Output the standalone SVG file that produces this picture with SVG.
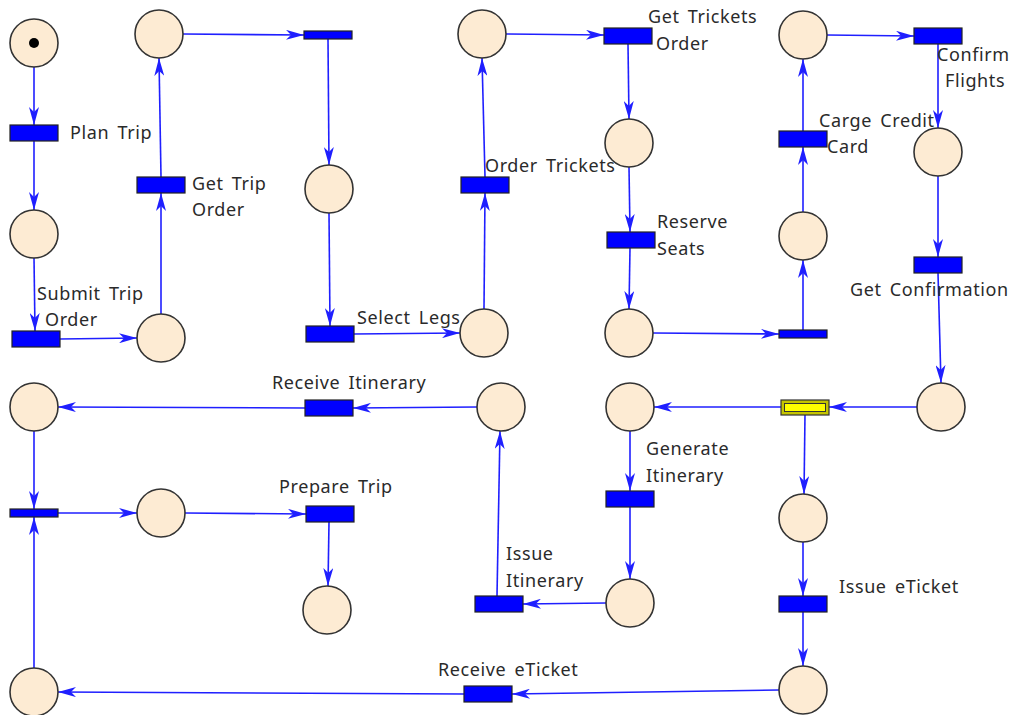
<svg xmlns="http://www.w3.org/2000/svg" width="1012" height="715" viewBox="0 0 1012 715">
<style>
.pl{fill:#FDEBD3;stroke:#333;stroke-width:1.6}
.tr{fill:#0000FF;stroke:#222;stroke-width:1.2}
.ar{stroke:#1F1FFF;stroke-width:1.6;fill:none;marker-end:url(#ah)}
.lb{font-family:"Noto Sans","Open Sans",sans-serif;font-size:18px;letter-spacing:0.6px;word-spacing:3px;fill:#2a2a2a}
</style>
<defs>
<marker id="ah" viewBox="0 0 18 10" refX="18" refY="5" markerWidth="18" markerHeight="10" markerUnits="userSpaceOnUse" orient="auto">
<path d="M0,0 L18,5 L0,10 L5,5 Z" fill="#1F1FFF"/>
</marker>
</defs>
<rect width="1012" height="715" fill="#fff"/>
<g id="connectors">
<line class="ar" x1="34" y1="67" x2="34" y2="125"/>
<line class="ar" x1="34" y1="141" x2="34" y2="210"/>
<line class="ar" x1="34" y1="258" x2="35" y2="331"/>
<line class="ar" x1="60" y1="339" x2="137" y2="338"/>
<line class="ar" x1="161" y1="314" x2="161" y2="193"/>
<line class="ar" x1="161" y1="177" x2="159" y2="58"/>
<line class="ar" x1="183" y1="34" x2="304" y2="35"/>
<line class="ar" x1="328" y1="39" x2="329" y2="165"/>
<line class="ar" x1="329" y1="213" x2="330" y2="326"/>
<line class="ar" x1="354" y1="334" x2="460" y2="333"/>
<line class="ar" x1="484" y1="309" x2="485" y2="193"/>
<line class="ar" x1="485" y1="177" x2="482" y2="58"/>
<line class="ar" x1="506" y1="34" x2="604" y2="35"/>
<line class="ar" x1="628" y1="44" x2="629" y2="119"/>
<line class="ar" x1="629" y1="167" x2="630" y2="232"/>
<line class="ar" x1="630" y1="248" x2="629" y2="309"/>
<line class="ar" x1="653" y1="333" x2="779" y2="334"/>
<line class="ar" x1="803" y1="330" x2="803" y2="260"/>
<line class="ar" x1="803" y1="212" x2="803" y2="147"/>
<line class="ar" x1="803" y1="131" x2="803" y2="59"/>
<line class="ar" x1="827" y1="35" x2="914" y2="36"/>
<line class="ar" x1="938" y1="44" x2="938" y2="128"/>
<line class="ar" x1="938" y1="176" x2="938" y2="257"/>
<line class="ar" x1="938" y1="273" x2="941" y2="383"/>
<line class="ar" x1="917" y1="407" x2="829" y2="407"/>
<line class="ar" x1="781" y1="407" x2="654" y2="407"/>
<line class="ar" x1="805" y1="414" x2="804" y2="494"/>
<line class="ar" x1="630" y1="431" x2="630" y2="491"/>
<line class="ar" x1="630" y1="507" x2="630" y2="579"/>
<line class="ar" x1="606" y1="603" x2="523" y2="604"/>
<line class="ar" x1="497" y1="596" x2="500" y2="431"/>
<line class="ar" x1="477" y1="407" x2="353" y2="408"/>
<line class="ar" x1="305" y1="408" x2="58" y2="407"/>
<line class="ar" x1="34" y1="431" x2="34" y2="509"/>
<line class="ar" x1="58" y1="513" x2="137" y2="513"/>
<line class="ar" x1="185" y1="513" x2="306" y2="514"/>
<line class="ar" x1="329" y1="522" x2="328" y2="586"/>
<line class="ar" x1="803" y1="542" x2="803" y2="596"/>
<line class="ar" x1="803" y1="612" x2="803" y2="666"/>
<line class="ar" x1="779" y1="690" x2="512" y2="694"/>
<line class="ar" x1="464" y1="694" x2="58" y2="692"/>
<line class="ar" x1="34" y1="668" x2="34" y2="517"/>
</g>
<g id="p1"><circle class="pl" cx="34" cy="43" r="24"/><circle cx="34" cy="43" r="5" fill="#000"/></g>
<g id="p2"><circle class="pl" cx="34" cy="234" r="24"/></g>
<g id="p3"><circle class="pl" cx="159" cy="34" r="24"/></g>
<g id="p4"><circle class="pl" cx="161" cy="338" r="24"/></g>
<g id="p5"><circle class="pl" cx="329" cy="189" r="24"/></g>
<g id="p6"><circle class="pl" cx="484" cy="333" r="24"/></g>
<g id="p7"><circle class="pl" cx="482" cy="34" r="24"/></g>
<g id="p8"><circle class="pl" cx="629" cy="143" r="24"/></g>
<g id="p9"><circle class="pl" cx="629" cy="333" r="24"/></g>
<g id="p10"><circle class="pl" cx="803" cy="35" r="24"/></g>
<g id="p11"><circle class="pl" cx="803" cy="236" r="24"/></g>
<g id="p12"><circle class="pl" cx="938" cy="152" r="24"/></g>
<g id="p13"><circle class="pl" cx="941" cy="407" r="24"/></g>
<g id="p14"><circle class="pl" cx="34" cy="407" r="24"/></g>
<g id="p15"><circle class="pl" cx="161" cy="513" r="24"/></g>
<g id="p16"><circle class="pl" cx="327" cy="610" r="24"/></g>
<g id="p17"><circle class="pl" cx="34" cy="692" r="24"/></g>
<g id="p18"><circle class="pl" cx="501" cy="407" r="24"/></g>
<g id="p19"><circle class="pl" cx="630" cy="407" r="24"/></g>
<g id="p20"><circle class="pl" cx="803" cy="518" r="24"/></g>
<g id="p21"><circle class="pl" cx="630" cy="603" r="24"/></g>
<g id="p22"><circle class="pl" cx="803" cy="690" r="24"/></g>
<g id="t1"><rect class="tr" x="10" y="125" width="48" height="16"/><text class="lb" x="70" y="139">Plan Trip</text></g>
<g id="t2"><rect class="tr" x="12" y="331" width="48" height="16"/><text class="lb" x="37" y="300">Submit Trip</text><text class="lb" x="45" y="326">Order</text></g>
<g id="t3"><rect class="tr" x="137" y="177" width="48" height="16"/><text class="lb" x="192" y="190">Get Trip</text><text class="lb" x="192" y="216">Order</text></g>
<g id="t4"><rect class="tr" x="304" y="31" width="48" height="8"/></g>
<g id="t5"><rect class="tr" x="306" y="326" width="48" height="16"/><text class="lb" x="357" y="324">Select Legs</text></g>
<g id="t6"><rect class="tr" x="461" y="177" width="48" height="16"/><text class="lb" x="485" y="172">Order Trickets</text></g>
<g id="t7"><rect class="tr" x="604" y="28" width="48" height="16"/><text class="lb" x="648" y="23">Get Trickets</text><text class="lb" x="656" y="50">Order</text></g>
<g id="t8"><rect class="tr" x="607" y="232" width="48" height="16"/><text class="lb" x="657" y="228">Reserve</text><text class="lb" x="657" y="255">Seats</text></g>
<g id="t9"><rect class="tr" x="779" y="330" width="48" height="8"/></g>
<g id="t10"><rect class="tr" x="779" y="131" width="48" height="16"/><text class="lb" x="819" y="127">Carge Credit</text><text class="lb" x="827" y="153">Card</text></g>
<g id="t11"><rect class="tr" x="914" y="28" width="48" height="16"/><text class="lb" x="937" y="61">Confirm</text><text class="lb" x="945" y="87">Flights</text></g>
<g id="t12"><rect class="tr" x="914" y="257" width="48" height="16"/><text class="lb" x="850" y="296">Get Confirmation</text></g>
<g id="t13"><rect x="781" y="400" width="48" height="15" fill="#C4C400" stroke="#333" stroke-width="1.2"/><rect x="784.5" y="403.5" width="41" height="8" fill="#FFFF00" stroke="#333" stroke-width="1"/></g>
<g id="t14"><rect class="tr" x="305" y="400" width="48" height="16"/><text class="lb" x="272" y="389">Receive Itinerary</text></g>
<g id="t15"><rect class="tr" x="10" y="509" width="48" height="8"/></g>
<g id="t16"><rect class="tr" x="306" y="506" width="48" height="16"/><text class="lb" x="279" y="493">Prepare Trip</text></g>
<g id="t17"><rect class="tr" x="606" y="491" width="48" height="16"/><text class="lb" x="646" y="455">Generate</text><text class="lb" x="646" y="482">Itinerary</text></g>
<g id="t18"><rect class="tr" x="475" y="596" width="48" height="16"/><text class="lb" x="506" y="560">Issue</text><text class="lb" x="506" y="587">Itinerary</text></g>
<g id="t19"><rect class="tr" x="779" y="596" width="48" height="16"/><text class="lb" x="839" y="593">Issue eTicket</text></g>
<g id="t20"><rect class="tr" x="464" y="686" width="48" height="16"/><text class="lb" x="438" y="676">Receive eTicket</text></g>
</svg>
